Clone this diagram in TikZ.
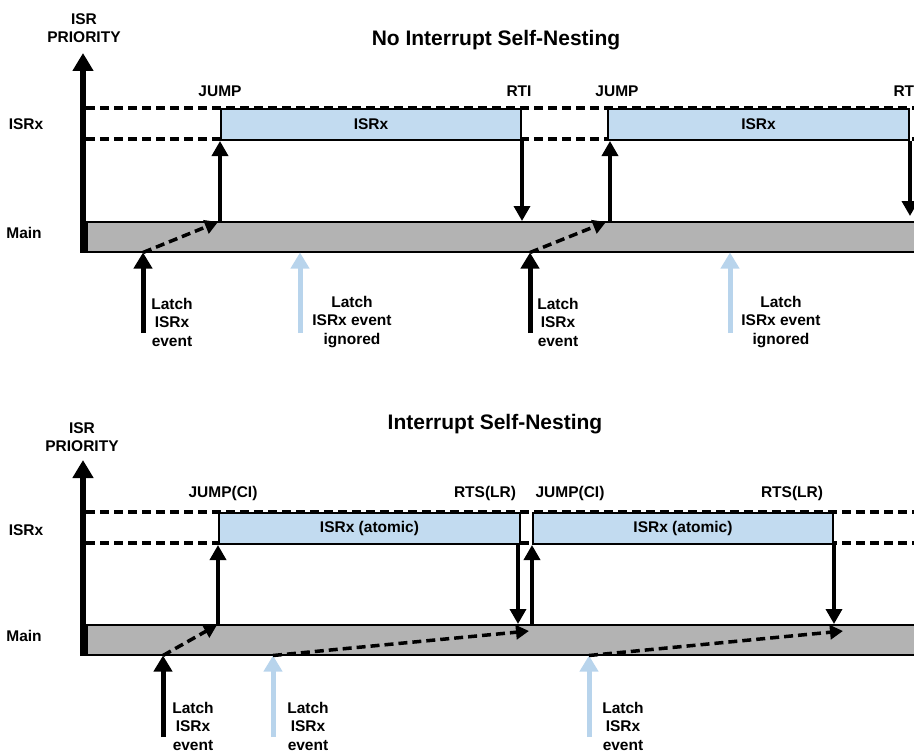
\documentclass[tikz,border=0pt]{standalone}
\usepackage{fontspec}
\setmainfont{Liberation Sans}
\usetikzlibrary{arrows.meta,calc}

\definecolor{isrblue}{HTML}{C2DBF0}
\definecolor{latchblue}{HTML}{B8D4EC}
\definecolor{maingray}{HTML}{B3B3B3}

\tikzset{
  lbl/.style = {font=\bfseries\fontsize{15.5}{18.5}\selectfont, align=center, inner sep=0pt},
  ttl/.style = {font=\bfseries\fontsize{21}{25}\selectfont, inner sep=0pt},
  guide/.style = {draw, line width=3.5pt, dash pattern=on 9pt off 5pt},
  isrbox/.style = {draw, line width=2pt, fill=isrblue, anchor=north west, minimum height=31pt,
                   inner sep=0pt, font=\bfseries\fontsize{15.5}{18}\selectfont},
  mainbar/.style = {draw, line width=1.5pt, fill=maingray, anchor=north west, minimum height=30pt,
                    minimum width=840pt, inner sep=0pt},
  prio/.style = {line width=6pt, -{Triangle[width=20pt,length=18pt]}},
  flow/.style = {line width=3.5pt, -{Triangle[width=16pt,length=15pt]}},
  latch/.style = {line width=5pt, -{Triangle[width=18pt,length=16pt]}},
  ignored/.style = {latch, draw=latchblue},
  pend/.style = {line width=3.5pt, dash pattern=on 9pt off 5pt, -{Triangle[width=14pt,length=13pt]}},
}

\begin{document}
\begin{tikzpicture}[x=1pt, y=-1pt]
  \clip (0,0) rectangle (914,752);
  % ---------------- no self-nesting ----------------
  \node[ttl](titleA)at(496,40){No Interrupt Self-Nesting};
  \node[lbl](prioA)at(84,28){ISR\\PRIORITY};
  \node[lbl](isrxA)at(26,124){ISRx};
  \node[lbl](mainlblA)at(24,233){Main};
  \path[guide](86,108)to(914,108);
  \path[guide](86,139)to(914,139);
  \node[mainbar](mainA)at(86,221){};
  \node[isrbox, minimum width=300pt](isrA1)at(220,108){ISRx};
  \node[isrbox, minimum width=301pt](isrA2)at(607,108){ISRx};
  \path[draw, prio](mainA.south west)++(-3,0)to(83,53);
  % labels above the boxes
  \node[lbl](jumpA1)at(220,91){JUMP};
  \node[lbl](rtiA1)at(519,91){RTI};
  \node[lbl](jumpA2)at(617,91){JUMP};
  \node[lbl](rtiA2)at(906,91){RTI};
  % jump and return
  \path[draw, flow](mainA.north -| isrA1.south west)to(isrA1.south west);
  \path[draw, flow](isrA1.south east)to(isrA1.south east |- mainA.north);
  \coordinate(upA2)at($(isrA2.south west)+(3,0)$);
  \path[draw, flow](mainA.north -| upA2)to(upA2);
  \coordinate(downA2)at(isrA2.south east);
  \path[draw, flow](downA2)to($(downA2 |- mainA.north)+(0,-5)$);
  % latched events
  \coordinate(latchA1)at(143,333);
  \coordinate(latchA2)at(300,333);
  \coordinate(latchA3)at(530,333);
  \coordinate(latchA4)at(730,333);
  \path[draw, latch](latchA1)to(latchA1 |- mainA.south);
  \path[draw, ignored](latchA2)to(latchA2 |- mainA.south);
  \path[draw, latch](latchA3)to(latchA3 |- mainA.south);
  \path[draw, ignored](latchA4)to(latchA4 |- mainA.south);
  \path[draw, pend](latchA1 |- mainA.south)to($(mainA.north -| isrA1.south west)+(-2,1)$);
  \path[draw, pend](latchA3 |- mainA.south)to($(mainA.north -| upA2)+(-4,1)$);
  \node[lbl](evtA1)at(172,322){Latch\\ISRx\\event};
  \node[lbl](evtA2)at(352,322){Latch\\ISRx event\\ignored};
  \node[lbl](evtA3)at(558,322){Latch\\ISRx\\event};
  \node[lbl](evtA4)at(781,322){Latch\\ISRx event\\ignored};
  % ---------------- self-nesting ----------------
  \node[ttl](titleB)at(495,424){Interrupt Self-Nesting};
  \node[lbl](prioB)at(82,437){ISR\\PRIORITY};
  \node[lbl](isrxB)at(26,530){ISRx};
  \node[lbl](mainlblB)at(24,636){Main};
  \path[guide](86,512)to(914,512);
  \path[guide](86,543)to(914,543);
  \node[mainbar](mainB)at(86,624){};
  \node[isrbox, minimum width=301pt](isrB1)at(218,512){ISRx (atomic)};
  \node[isrbox, minimum width=300pt](isrB2)at(532,512){ISRx (atomic)};
  \path[draw, prio](mainB.south west)++(-3,0)to(83,460);
  % labels above the boxes
  \node[lbl](jumpB1)at(223,493){JUMP(CI)};
  \node[lbl](rtsB1)at(485,493){RTS(LR)};
  \node[lbl](jumpB2)at(570,493){JUMP(CI)};
  \node[lbl](rtsB2)at(792,493){RTS(LR)};
  % jump and return
  \path[draw, flow](mainB.north -| isrB1.south west)to(isrB1.south west);
  \coordinate(downB1)at($(isrB1.south east)+(-3,0)$);
  \path[draw, flow](downB1)to(downB1 |- mainB.north);
  \path[draw, flow](mainB.north -| isrB2.south west)to(isrB2.south west);
  \path[draw, flow](isrB2.south east)to(isrB2.south east |- mainB.north);
  % latched events
  \coordinate(latchB1)at(163,737);
  \coordinate(latchB2)at(273,737);
  \coordinate(latchB3)at(589,737);
  \path[draw, latch](latchB1)to(latchB1 |- mainB.south);
  \path[draw, ignored](latchB2)to(latchB2 |- mainB.south);
  \path[draw, ignored](latchB3)to(latchB3 |- mainB.south);
  \coordinate(pendB2)at(529,631);
  \coordinate(pendB3)at(843,631);
  \path[draw, pend](latchB1 |- mainB.south)to($(mainB.north -| isrB1.south west)+(-1,1)$);
  \path[draw, pend](latchB2 |- mainB.south)to(pendB2);
  \path[draw, pend](latchB3 |- mainB.south)to(pendB3);
  \node[lbl](evtB1)at(193,726){Latch\\ISRx\\event};
  \node[lbl](evtB2)at(308,726){Latch\\ISRx\\event};
  \node[lbl](evtB3)at(623,726){Latch\\ISRx\\event};
\end{tikzpicture}
\end{document}
